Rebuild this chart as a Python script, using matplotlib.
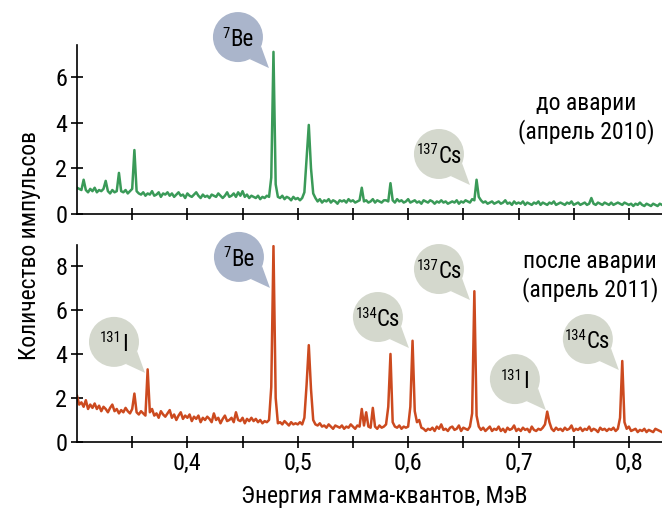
import numpy as np
import matplotlib
matplotlib.use("Agg")
import matplotlib.pyplot as plt
from matplotlib.patches import Circle, Polygon
from matplotlib.transforms import IdentityTransform

FONT = ['Roboto Condensed', 'Roboto', 'DejaVu Sans']
plt.rcParams['font.family'] = FONT

# ---- data: gamma spectra, channel grid 0.300 .. 0.830 MeV, step 0.002 ----
energy_start = 0.300
energy_step = 0.002

counts_2010 = [
    1.15, 1.1, 1.05, 1.5, 1.05, 0.95, 1.1, 1.0, 1.15, 0.95,
    1.05, 1.0, 1.1, 1.45, 1.0, 0.9, 1.05, 0.95, 1.0, 1.8,
    1.0, 0.95, 1.05, 0.9, 1.0, 1.1, 2.8, 1.0, 0.9, 0.85,
    0.95, 0.8, 0.9, 0.85, 1.0, 0.8, 0.85, 0.95, 0.75, 0.9,
    0.85, 0.95, 0.8, 0.9, 0.75, 0.85, 0.95, 0.8, 0.85, 0.7,
    0.9, 0.8, 0.75, 0.85, 0.95, 0.8, 0.7, 0.85, 0.75, 0.8,
    0.7, 0.85, 0.8, 0.75, 0.9, 0.8, 0.7, 0.8, 0.95, 0.75,
    0.8, 0.9, 0.75, 0.95, 0.8, 1.0, 0.75, 0.85, 0.7, 0.8,
    0.75, 0.7, 0.8, 0.65, 0.75, 0.7, 0.8, 0.75, 1.6, 7.1,
    1.3, 0.75, 0.7, 0.8, 0.65, 0.75, 0.7, 0.6, 0.75, 0.65,
    0.7, 0.6, 0.7, 0.95, 2.4, 3.9, 2.0, 0.9, 0.7, 0.55,
    0.65, 0.5, 0.6, 0.55, 0.65, 0.5, 0.6, 0.55, 0.45, 0.6,
    0.55, 0.6, 0.5, 0.65, 0.55, 0.6, 0.5, 0.55, 0.6, 1.15,
    0.55, 0.6, 0.5, 0.55, 0.65, 0.5, 0.6, 0.55, 0.5, 0.6,
    0.6, 0.55, 1.35, 0.6, 0.5, 0.65, 0.55, 0.6, 0.5, 0.55,
    0.65, 0.5, 0.55, 0.6, 0.5, 0.55, 0.45, 0.6, 0.55, 0.5,
    0.6, 0.55, 0.45, 0.55, 0.5, 0.6, 0.5, 0.55, 0.45, 0.5,
    0.55, 0.5, 0.6, 0.45, 0.55, 0.5, 0.6, 0.55, 0.5, 0.65,
    0.6, 1.5, 0.75, 0.6, 0.5, 0.55, 0.45, 0.5, 0.55, 0.45,
    0.5, 0.55, 0.45, 0.5, 0.6, 0.45, 0.5, 0.4, 0.55, 0.45,
    0.5, 0.45, 0.55, 0.4, 0.5, 0.45, 0.4, 0.5, 0.45, 0.55,
    0.4, 0.5, 0.45, 0.4, 0.5, 0.45, 0.55, 0.4, 0.45, 0.5,
    0.45, 0.4, 0.5, 0.45, 0.55, 0.4, 0.45, 0.5, 0.4, 0.45,
    0.5, 0.4, 0.45, 0.7, 0.45, 0.4, 0.5, 0.45, 0.4, 0.5,
    0.45, 0.4, 0.5, 0.4, 0.45, 0.5, 0.45, 0.4, 0.5, 0.45,
    0.4, 0.45, 0.35, 0.45, 0.4, 0.5, 0.4, 0.35, 0.45, 0.4,
    0.35, 0.45, 0.4, 0.35, 0.45, 0.4,
]

counts_2011 = [
    2.1, 1.7, 1.8, 1.6, 1.9, 1.5, 1.7, 1.55, 1.75, 1.5,
    1.65, 1.4, 1.6, 1.5, 1.35, 1.55, 1.7, 1.4, 1.5, 1.3,
    1.45, 1.35, 1.55, 1.4, 1.3, 1.5, 2.2, 1.35, 1.25, 1.4,
    1.3, 1.2, 3.3, 1.35, 1.5, 1.2, 1.3, 1.1, 1.4, 1.25,
    1.15, 1.3, 1.45, 1.1, 1.25, 1.0, 1.2, 1.35, 1.05, 1.2,
    1.1, 1.25, 0.95, 1.15, 1.05, 1.2, 0.9, 1.1, 1.0, 1.15,
    1.05, 0.9, 1.3, 1.0, 1.1, 0.85, 1.05, 1.2, 0.95, 1.0,
    1.1, 0.9, 1.35, 1.0, 0.95, 1.1, 0.85, 1.05, 0.95, 1.1,
    0.95, 1.05, 0.9, 1.0, 0.85, 0.95, 0.9, 1.0, 2.5, 8.9,
    2.0, 0.85, 0.9, 0.8, 0.95, 0.85, 0.75, 0.9, 0.8, 0.85,
    0.8, 0.9, 0.8, 1.1, 2.6, 4.4, 2.4, 1.0, 0.8, 0.75,
    0.85, 0.7, 0.75, 0.65, 0.8, 0.7, 0.6, 0.75, 0.7, 0.65,
    0.75, 0.6, 0.7, 0.65, 0.8, 0.7, 0.6, 0.75, 0.7, 1.5,
    0.75, 1.35, 0.7, 0.65, 1.55, 0.7, 0.6, 0.75, 0.65, 0.7,
    0.8, 1.6, 4.0, 0.9, 0.7, 0.65, 0.75, 0.6, 0.7, 0.65,
    0.7, 1.6, 4.6, 1.4, 0.9, 1.0, 0.65, 0.6, 0.5, 0.6,
    0.55, 0.65, 0.5, 0.7, 0.6, 0.8, 0.55, 0.6, 0.5, 0.65,
    0.7, 0.55, 0.6, 0.75, 0.5, 0.65, 0.6, 0.55, 0.7, 1.3,
    6.85, 1.2, 0.7, 0.55, 0.65, 0.5, 0.6, 0.7, 0.5, 0.6,
    0.55, 0.7, 0.5, 0.6, 0.45, 0.65, 0.55, 0.6, 0.75, 0.5,
    0.6, 0.5, 0.65, 0.55, 0.6, 0.45, 0.7, 0.55, 0.5, 0.6,
    0.55, 0.65, 0.8, 1.38, 0.9, 0.6, 0.5, 0.65, 0.55, 0.6,
    0.5, 0.65, 0.55, 0.6, 0.75, 0.5, 0.6, 0.55, 0.65, 0.5,
    0.6, 0.55, 0.7, 0.5, 0.6, 0.55, 0.45, 0.65, 0.55, 0.6,
    0.5, 0.6, 0.55, 0.65, 0.5, 0.6, 1.1, 3.68, 0.9, 0.6,
    0.7, 0.5, 0.55, 0.6, 0.45, 0.55, 0.5, 0.6, 0.45, 0.55,
    0.5, 0.45, 0.6, 0.55, 0.5, 0.45,
]

x_ticks = [0.35, 0.40, 0.45, 0.50, 0.55, 0.60, 0.65, 0.70, 0.75, 0.80]
x_tick_labels = ['', '0,4', '', '0,5', '', '0,6', '', '0,7', '', '0,8']
y_ticks_2010 = [0, 2, 4, 6]
y_ticks_2011 = [0, 2, 4, 6, 8]

# annotations: (mass number, element, tip energy, tip count)
labels_2010 = [('7', 'Be', 0.4739, 6.39), ('137', 'Cs', 0.656, 1.27)]
labels_2011 = [('131', 'I', 0.3616, 3.14), ('7', 'Be', 0.4748, 7.0),
               ('134', 'Cs', 0.6007, 4.27), ('137', 'Cs', 0.656, 6.45),
               ('131', 'I', 0.7248, 1.45), ('134', 'Cs', 0.7909, 3.27)]

GREEN = '#3a9a58'
RED = '#cc4a1f'
BE_COL = '#aab5cb'
GREY_COL = '#d4d8cd'

W, H = 662, 509
fig = plt.figure(figsize=(W / 100, H / 100), dpi=100)
ax1 = fig.add_axes([77 / W, 1 - 214 / H, 585 / W, 169 / H])
ax2 = fig.add_axes([77 / W, 1 - 442 / H, 585 / W, 197 / H])

e1 = energy_start + energy_step * np.arange(len(counts_2010))
e2 = energy_start + energy_step * np.arange(len(counts_2011))
ax1.plot(e1, counts_2010, color=GREEN, lw=1.8, solid_joinstyle='round', zorder=2)
ax2.plot(e2, counts_2011, color=RED, lw=1.8, solid_joinstyle='round', zorder=2)

for ax, yt, ylim in [(ax1, y_ticks_2010, 7.4), (ax2, y_ticks_2011, 8.95)]:
    ax.set_xlim(0.30, 0.83)
    ax.set_ylim(0, ylim)
    ax.set_yticks(yt)
    ax.set_xticks(x_ticks)
    for s in ['top', 'right']:
        ax.spines[s].set_visible(False)
    for s in ['left', 'bottom']:
        ax.spines[s].set_linewidth(1.2)
    ax.tick_params(direction='inout', length=8, width=1.2, labelsize=17.5, pad=3)
ax1.set_xticklabels([])
ax2.set_xticklabels(x_tick_labels)

fig.text(30 / W, 1 - 245 / H, 'Количество импульсов', rotation=90,
         ha='center', va='center', fontsize=17)
fig.text(384 / W, 1 - 496 / H, 'Энергия гамма-квантов, МэВ',
         ha='center', va='center', fontsize=17)
fig.text(586 / W, 1 - 118 / H, 'до аварии\n(апрель 2010)', ha='center',
         va='center', fontsize=17, linespacing=1.25)
fig.text(590 / W, 1 - 276 / H, 'после аварии\n(апрель 2011)', ha='center',
         va='center', fontsize=17, linespacing=1.25)

R = 25
OFF = 31
renderer = fig.canvas.get_renderer()


def bubble(ax, mass, elem, ex, ey):
    tip = ax.transData.transform((ex, ey))
    cx, cy = tip[0] - OFF, tip[1] + OFF
    col = BE_COL if elem == 'Be' else GREY_COL
    a1, a2 = np.deg2rad(-62), np.deg2rad(-22)
    tail = Polygon([(cx + R * np.cos(a1), cy + R * np.sin(a1)),
                    (cx + R * np.cos(a2), cy + R * np.sin(a2)),
                    (tip[0], tip[1])], closed=True, facecolor=col,
                   edgecolor='none', transform=IdentityTransform(), zorder=3)
    circ = Circle((cx, cy), R, facecolor=col, edgecolor='none',
                  transform=IdentityTransform(), zorder=3)
    fig.patches.extend([tail, circ])
    t_main = fig.text(0, 0, elem, fontsize=16.5, ha='left', va='baseline')
    t_sup = fig.text(0, 0, mass, fontsize=10.5, ha='right', va='top')
    wm = t_main.get_window_extent(renderer).width
    ws = t_sup.get_window_extent(renderer).width
    total = wm + ws
    xj = cx - total / 2 + ws
    base = cy - 9
    t_main.set_position((xj / W, base / H))
    t_sup.set_position((xj / W, (base + 19.5) / H))


for m, el, ex, ey in labels_2010:
    bubble(ax1, m, el, ex, ey)
for m, el, ex, ey in labels_2011:
    bubble(ax2, m, el, ex, ey)

fig.savefig('out.png', dpi=100)
